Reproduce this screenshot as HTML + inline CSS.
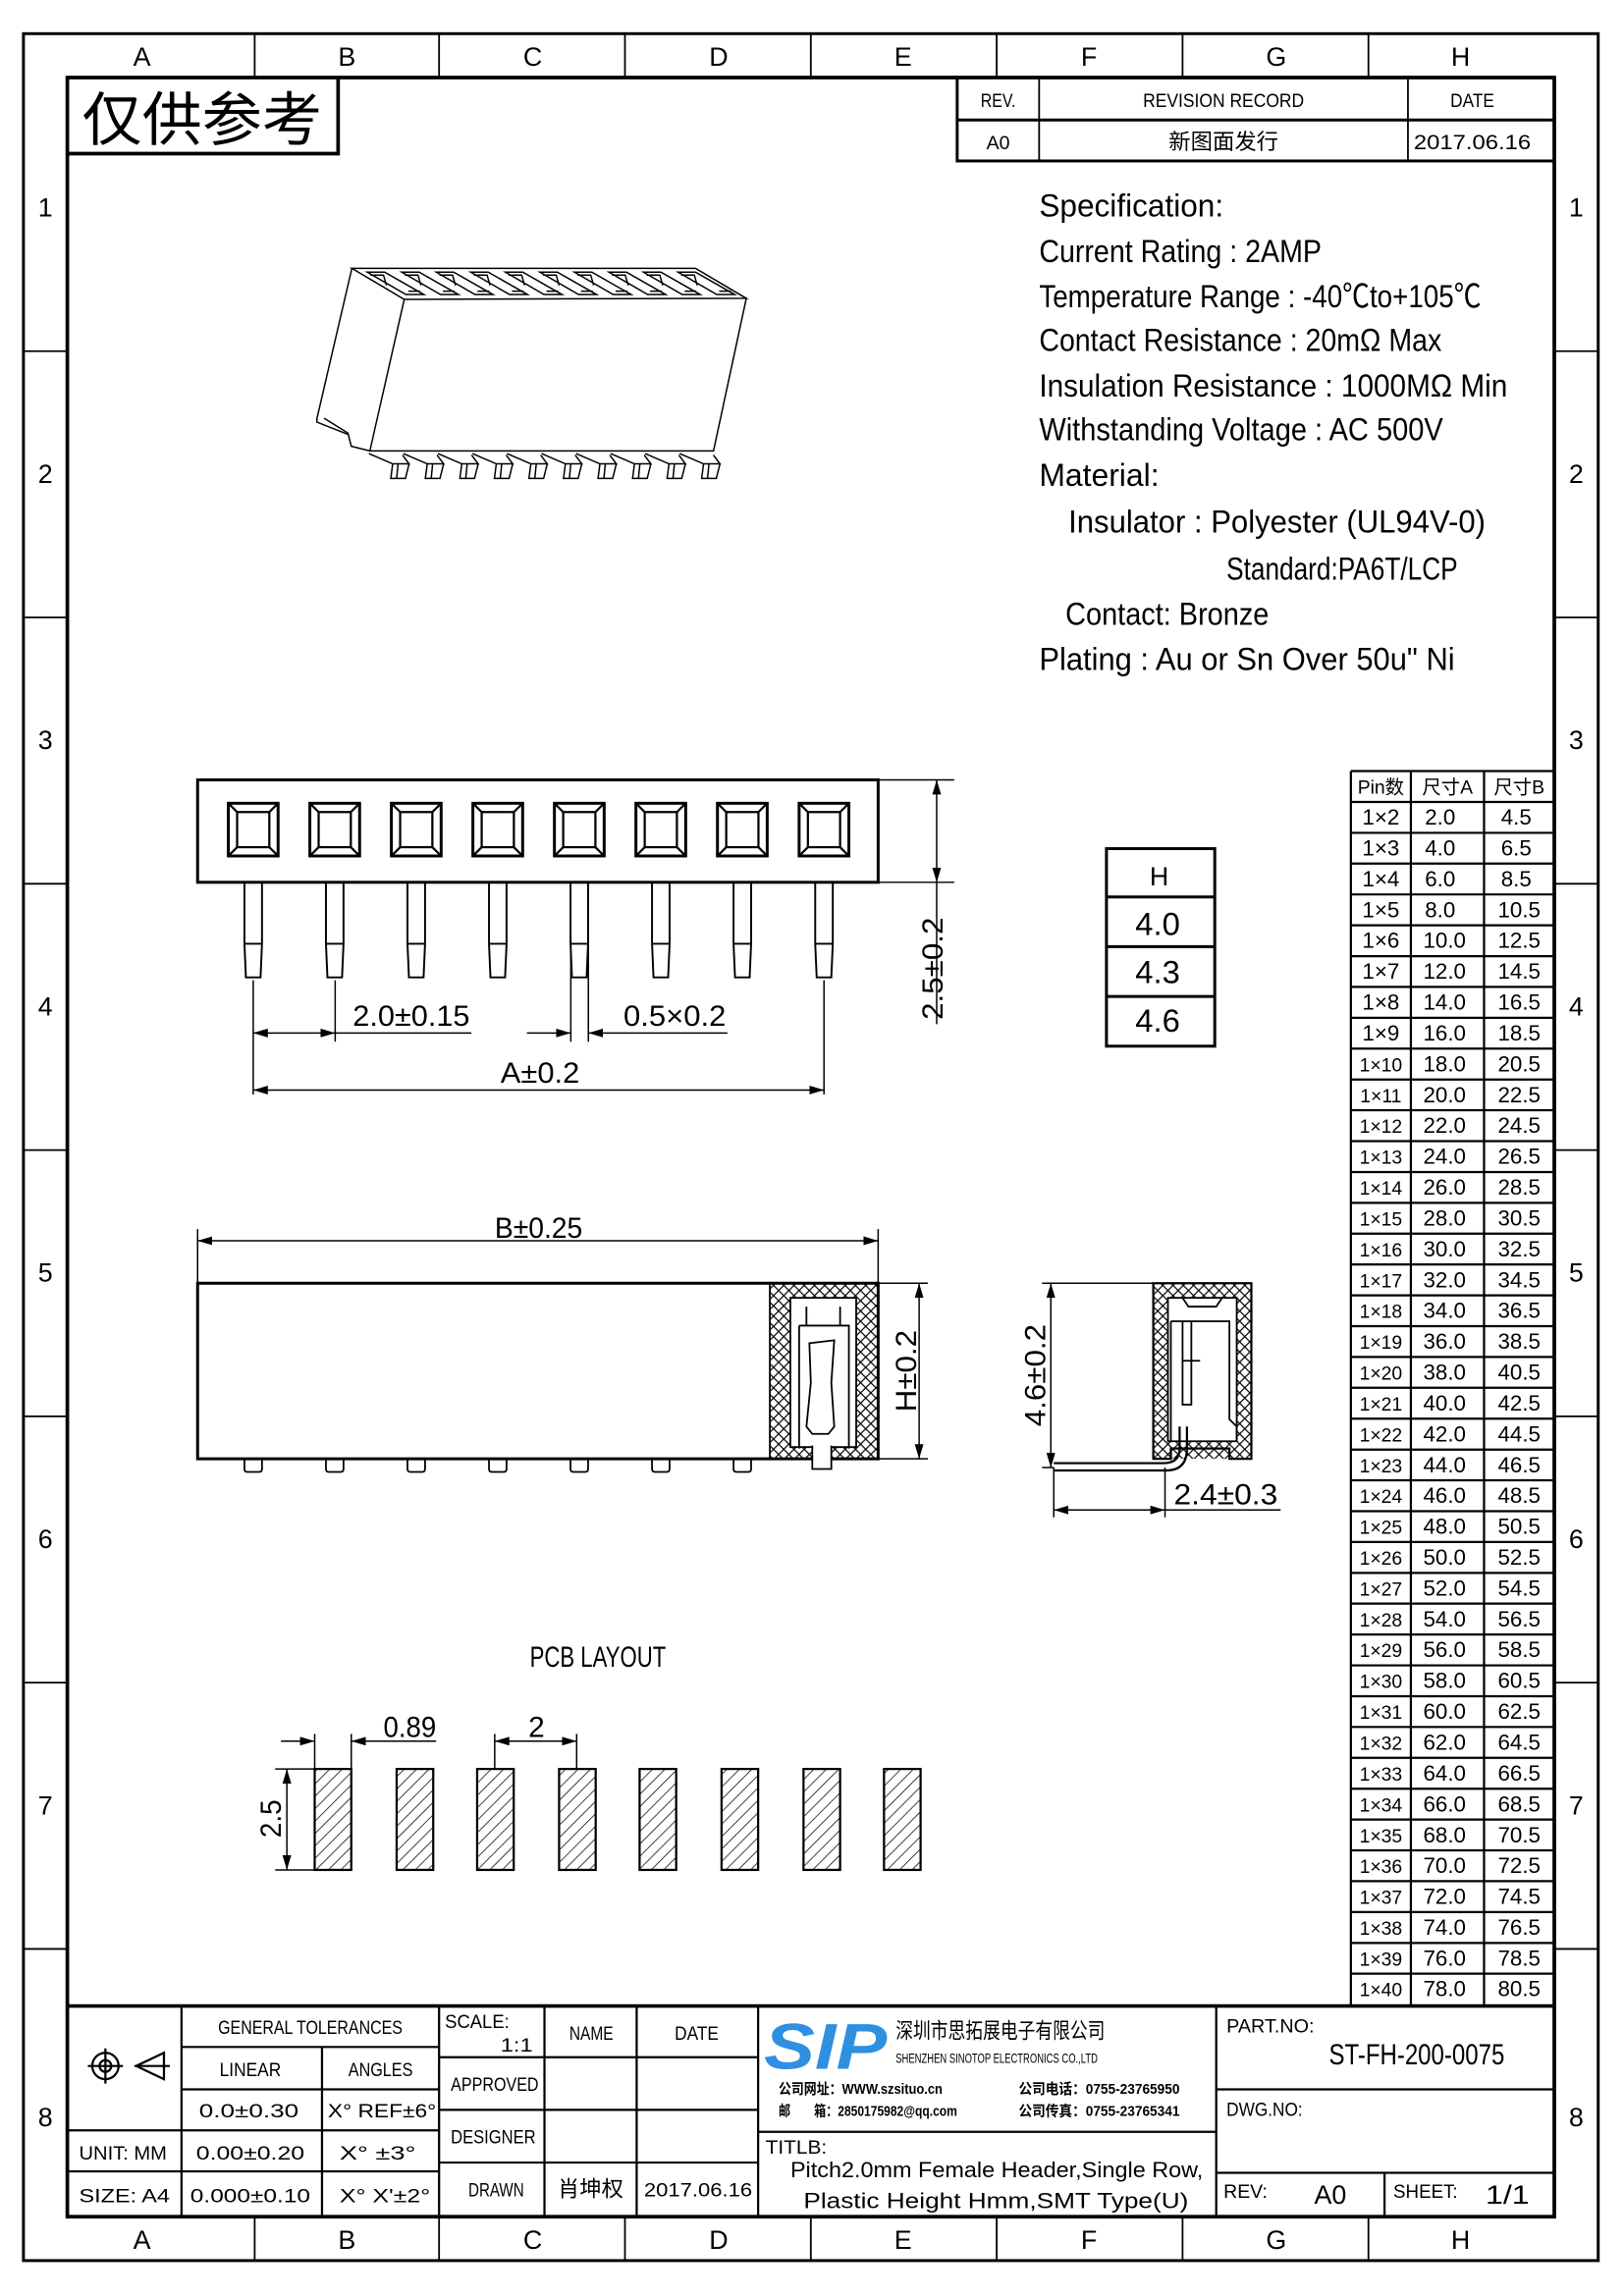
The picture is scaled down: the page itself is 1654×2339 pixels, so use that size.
<!DOCTYPE html>
<html><head><meta charset="utf-8"><style>
html,body{margin:0;padding:0;background:#fff}
svg{display:block}
text{font-family:"Liberation Sans","Noto Sans CJK SC",sans-serif;fill:#000}
</style></head><body>
<svg width="1654" height="2339" viewBox="0 0 1109.6 1569.2" xmlns="http://www.w3.org/2000/svg">
<defs>
<pattern id="xh" width="7" height="7" patternUnits="userSpaceOnUse"><path d="M0 0L7 7M7 0L0 7" stroke="#000" stroke-width="0.8"/></pattern>
<pattern id="dh" width="6" height="6" patternUnits="userSpaceOnUse" patternTransform="rotate(45)"><path d="M0 0V6" stroke="#000" stroke-width="1"/></pattern>
<marker id="ar" viewBox="0 0 10 6" refX="10" refY="3" markerWidth="10" markerHeight="6" orient="auto-start-reverse" markerUnits="userSpaceOnUse"><path d="M0 0L10 3L0 6z" fill="#000"/></marker>
</defs>
<g fill="none" stroke="#000">
<rect x="16" y="23" width="1076" height="1522" stroke-width="2"/>
<rect x="46" y="53" width="1016" height="1462" stroke-width="2.5"/>
<path d="M174 23V53M300 23V53M427 23V53M554 23V53M681 23V53M808 23V53M935 23V53M174 1515V1545M300 1515V1545M427 1515V1545M554 1515V1545M681 1515V1545M808 1515V1545M935 1515V1545" stroke-width="1.2"/>
<path d="M16 240H46M16 422H46M16 604H46M16 786H46M16 968H46M16 1150H46M16 1332H46M1062 240H1092M1062 422H1092M1062 604H1092M1062 786H1092M1062 968H1092M1062 1150H1092M1062 1332H1092" stroke-width="1.2"/>
<path d="M46 105H231V53" stroke-width="2.5"/>
<rect x="654" y="53" width="408" height="57" stroke-width="2"/>
<path d="M654 82H1062" stroke-width="2"/>
<path d="M710 53V110M962 53V110" stroke-width="1.2"/>
</g>
<g font-size="18" text-anchor="middle">
<text x="97" y="45">A</text><text x="237" y="45">B</text><text x="364" y="45">C</text><text x="491" y="45">D</text><text x="617" y="45">E</text><text x="744" y="45">F</text><text x="872" y="45">G</text><text x="998" y="45">H</text>
<text x="97" y="1537">A</text><text x="237" y="1537">B</text><text x="364" y="1537">C</text><text x="491" y="1537">D</text><text x="617" y="1537">E</text><text x="744" y="1537">F</text><text x="872" y="1537">G</text><text x="998" y="1537">H</text>
<text x="31" y="148">1</text><text x="31" y="330">2</text><text x="31" y="512">3</text><text x="31" y="694">4</text><text x="31" y="876">5</text><text x="31" y="1058">6</text><text x="31" y="1240">7</text><text x="31" y="1453">8</text>
<text x="1077" y="148">1</text><text x="1077" y="330">2</text><text x="1077" y="512">3</text><text x="1077" y="694">4</text><text x="1077" y="876">5</text><text x="1077" y="1058">6</text><text x="1077" y="1240">7</text><text x="1077" y="1453">8</text>
</g>
<text x="56" y="96" font-size="40" textLength="164" lengthAdjust="spacingAndGlyphs" font-family="Noto Sans CJK SC,sans-serif">仅供参考</text>
<g font-size="13" text-anchor="middle">
<text x="682" y="73" textLength="24" lengthAdjust="spacingAndGlyphs">REV.</text>
<text x="836" y="73" textLength="110" lengthAdjust="spacingAndGlyphs">REVISION RECORD</text>
<text x="1006" y="73" textLength="30" lengthAdjust="spacingAndGlyphs">DATE</text>
<text x="682" y="102" textLength="16" lengthAdjust="spacingAndGlyphs">A0</text>
<text x="836" y="102" font-size="15">新图面发行</text>
<text x="1006" y="102" font-size="14" textLength="80" lengthAdjust="spacingAndGlyphs">2017.06.16</text>
</g>
<g font-size="22">
<text x="710" y="148" textLength="126" lengthAdjust="spacingAndGlyphs">Specification:</text>
<text x="710" y="179" textLength="193" lengthAdjust="spacingAndGlyphs">Current Rating : 2AMP</text>
<text x="710" y="210" textLength="302" lengthAdjust="spacingAndGlyphs">Temperature Range : -40℃to+105℃</text>
<text x="710" y="240" textLength="275" lengthAdjust="spacingAndGlyphs">Contact Resistance : 20mΩ Max</text>
<text x="710" y="271" textLength="320" lengthAdjust="spacingAndGlyphs">Insulation Resistance : 1000MΩ Min</text>
<text x="710" y="301" textLength="276" lengthAdjust="spacingAndGlyphs">Withstanding Voltage : AC 500V</text>
<text x="710" y="332" textLength="82" lengthAdjust="spacingAndGlyphs">Material:</text>
<text x="730" y="364" textLength="285" lengthAdjust="spacingAndGlyphs">Insulator : Polyester (UL94V-0)</text>
<text x="838" y="396" textLength="158" lengthAdjust="spacingAndGlyphs">Standard:PA6T/LCP</text>
<text x="728" y="427" textLength="139" lengthAdjust="spacingAndGlyphs">Contact: Bronze</text>
<text x="710" y="458" textLength="284" lengthAdjust="spacingAndGlyphs">Plating : Au or Sn Over 50u" Ni</text>
</g>
<g fill="none" stroke="#000" stroke-width="1">
<path d="M240.4 183.4L475.2 183.4L509.9 203.9L276.2 204.6Z"/>
<path d="M276.2 204.6L252.7 308.2L487.5 308.2L509.9 203.9"/>
<path d="M240.4 183.4L216.5 286.2L216.5 288.5L238 297L240 305L252.7 308.2"/>
<path d="M221.4 285.8L238.2 296.3"/>
<g id="sl"><path d="M250.9 186L262.8 186L289.6 201.3L277.3 201.3Z"/><path d="M253 188L262 188L264 195M279 199L287 199"/></g>
<use href="#sl" x="23.6"/><use href="#sl" x="47.2"/><use href="#sl" x="70.8"/><use href="#sl" x="94.4"/><use href="#sl" x="118"/><use href="#sl" x="141.6"/><use href="#sl" x="165.2"/><use href="#sl" x="188.8"/><use href="#sl" x="212.4"/>
<g id="pn"><path d="M252 310L268.3 317L279.5 317L275 311M268.3 317L267 327L277 327L279.5 317M272 317L271 327"/></g>
<use href="#pn" x="23.6"/><use href="#pn" x="47.2"/><use href="#pn" x="70.8"/><use href="#pn" x="94.4"/><use href="#pn" x="118"/><use href="#pn" x="141.6"/><use href="#pn" x="165.2"/><use href="#pn" x="188.8"/><use href="#pn" x="212.4"/>
</g>
<g fill="none" stroke="#000">
<rect x="135" y="533" width="465" height="70" stroke-width="2"/>
<g id="sq" stroke-width="1.5"><rect x="156" y="549" width="34" height="36" stroke-width="2"/><rect x="162" y="555" width="22" height="24"/><path d="M156 549L162 555M190 549L184 555M156 585L162 579M190 585L184 579"/><path d="M167 603V645L168 668H178L179 645V603M167 645H179" stroke-width="1.3"/></g>
<use href="#sq" x="55.7"/><use href="#sq" x="111.4"/><use href="#sq" x="167.1"/><use href="#sq" x="222.8"/><use href="#sq" x="278.5"/><use href="#sq" x="334.2"/><use href="#sq" x="390"/>
<path d="M173 670V748M229 670V712M563 670V748M390 640V712M402 640V712M600 533H652M600 603H652M640 603V700" stroke-width="1"/>
<path d="M173 706H229" stroke-width="1" marker-start="url(#ar)" marker-end="url(#ar)"/>
<path d="M229 706H322" stroke-width="1"/>
<path d="M360 706H390" stroke-width="1" marker-end="url(#ar)"/>
<path d="M434 706H402" stroke-width="1" marker-end="url(#ar)"/>
<path d="M434 706H497" stroke-width="1"/>
<path d="M173 745H563" stroke-width="1" marker-start="url(#ar)" marker-end="url(#ar)"/>
<path d="M640 533V603" stroke-width="1" marker-start="url(#ar)" marker-end="url(#ar)"/>
</g>
<g font-size="20">
<text x="241" y="701" textLength="80" lengthAdjust="spacingAndGlyphs">2.0±0.15</text>
<text x="426" y="701" textLength="70" lengthAdjust="spacingAndGlyphs">0.5×0.2</text>
<text x="342" y="740" textLength="54" lengthAdjust="spacingAndGlyphs">A±0.2</text>
<text transform="translate(644 697) rotate(-90)" textLength="70" lengthAdjust="spacingAndGlyphs">2.5±0.2</text>
</g>
<g fill="none" stroke="#000" stroke-width="2"><rect x="756" y="580" width="74" height="135"/><path d="M756 613H830M756 647H830M756 681H830"/></g>
<g font-size="22" text-anchor="middle"><text x="792" y="605" font-size="18">H</text><text x="791" y="639">4.0</text><text x="791" y="672">4.3</text><text x="791" y="705">4.6</text></g>
<g fill="none" stroke="#000">
<rect x="526" y="877" width="74" height="120" fill="url(#xh)" stroke="none"/>
<path d="M135 877H600V997H135Z" stroke-width="2"/>
<path d="M526 877V997" stroke-width="1.2"/>
<path d="M540 887H585V989H540Z" fill="#fff" stroke-width="1.2"/>
<path d="M551 893V906M574 893V906M546 906H580V990M546 906V990" stroke-width="1.2"/>
<path d="M553 918L570 916L568 945L570 975L566 980L555 980L551 975L554 945Z" fill="#fff" stroke-width="1.2"/>
<path d="M555 988V1004H568V988" fill="#fff" stroke-width="1.2"/>
<g id="pd"><path d="M167 997V1004Q167 1006 169 1006H177Q179 1006 179 1004V997" stroke-width="1.2"/></g>
<use href="#pd" x="55.7"/><use href="#pd" x="111.4"/><use href="#pd" x="167.1"/><use href="#pd" x="222.8"/><use href="#pd" x="278.5"/><use href="#pd" x="334.2"/>
<path d="M135 840V877M600 840V877M600 877H634M600 997H634" stroke-width="1"/>
<path d="M135 848H600" stroke-width="1" marker-start="url(#ar)" marker-end="url(#ar)"/>
<path d="M628 877V997" stroke-width="1" marker-start="url(#ar)" marker-end="url(#ar)"/>
</g>
<g font-size="20">
<text x="338" y="846" textLength="60" lengthAdjust="spacingAndGlyphs">B±0.25</text>
<text transform="translate(626 965) rotate(-90)" textLength="56" lengthAdjust="spacingAndGlyphs">H±0.2</text>
</g>
<g fill="none" stroke="#000">
<rect x="788" y="877" width="67" height="120" fill="url(#xh)" stroke="none"/>
<path d="M788 877H855V997H840V990H800V997H788Z" stroke-width="1.5"/>
<path d="M798 887H845V985H798Z" fill="#fff" stroke-width="1.2"/>
<path d="M808 887L812 893H831L835 887M800 903V985M800 903H840V970L845 975V985" stroke-width="1.2"/>
<path d="M808 903V960H814V903M808 930H820" stroke-width="1.2"/>
<path d="M720 1000H795Q806 1000 806 990V975" stroke-width="1.5"/>
<path d="M720 1005H797Q811 1005 811 990V975" stroke-width="1.5"/>
<path d="M712 877H788M712 1003H720M720 1003V1037M796 1003V1037" stroke-width="1"/>
<path d="M718 877V1003" stroke-width="1" marker-start="url(#ar)" marker-end="url(#ar)"/>
<path d="M720 1032H796" stroke-width="1" marker-start="url(#ar)" marker-end="url(#ar)"/>
<path d="M796 1032H875" stroke-width="1"/>
</g>
<g font-size="20">
<text transform="translate(714 975) rotate(-90)" textLength="70" lengthAdjust="spacingAndGlyphs">4.6±0.2</text>
<text x="802" y="1028" textLength="71" lengthAdjust="spacingAndGlyphs">2.4±0.3</text>
<text x="362" y="1139" textLength="93" lengthAdjust="spacingAndGlyphs">PCB LAYOUT</text>
<text x="262" y="1187" textLength="36" lengthAdjust="spacingAndGlyphs">0.89</text>
<text x="361" y="1187">2</text>
<text transform="translate(192 1256) rotate(-90)" textLength="26" lengthAdjust="spacingAndGlyphs">2.5</text>
</g>
<g stroke="#000" fill="url(#dh)" stroke-width="1.5">
<rect x="215" y="1209" width="25" height="69"/><rect x="271" y="1209" width="25" height="69"/><rect x="326" y="1209" width="25" height="69"/><rect x="382" y="1209" width="25" height="69"/><rect x="437" y="1209" width="25" height="69"/><rect x="493" y="1209" width="25" height="69"/><rect x="549" y="1209" width="25" height="69"/><rect x="604" y="1209" width="25" height="69"/>
</g>
<g fill="none" stroke="#000" stroke-width="1">
<path d="M215 1185V1209M240 1185V1209M338 1185V1209M394 1185V1209M188 1209H215M188 1278H215"/>
<path d="M192 1190H215" marker-end="url(#ar)"/><path d="M298 1190H240" marker-end="url(#ar)"/>
<path d="M338 1190H394" marker-start="url(#ar)" marker-end="url(#ar)"/>
<path d="M196 1209V1278" marker-start="url(#ar)" marker-end="url(#ar)"/>
</g>
<g fill="none" stroke="#000">
<path d="M923 527H1062M923 527V1370M964 527V1370M1014 527V1370" stroke-width="1.5"/>
<path d="M923 548.1H1062M923 569.2H1062M923 590.2H1062M923 611.3H1062M923 632.4H1062M923 653.5H1062M923 674.5H1062M923 695.6H1062M923 716.7H1062M923 737.8H1062M923 758.8H1062M923 779.9H1062M923 801H1062M923 822.1H1062M923 843.1H1062M923 864.2H1062M923 885.3H1062M923 906.4H1062M923 927.4H1062M923 948.5H1062M923 969.6H1062M923 990.7H1062M923 1011.7H1062M923 1032.8H1062M923 1053.9H1062M923 1075H1062M923 1096H1062M923 1117.1H1062M923 1138.2H1062M923 1159.3H1062M923 1180.3H1062M923 1201.4H1062M923 1222.5H1062M923 1243.6H1062M923 1264.6H1062M923 1285.7H1062M923 1306.8H1062M923 1327.9H1062M923 1348.9H1062" stroke-width="1.5"/>
</g>
<g font-size="15" text-anchor="middle">
<text x="943.5" y="542.5" font-size="13">Pin数</text><text x="989" y="542.5" font-size="13">尺寸A</text><text x="1038" y="542.5" font-size="13">尺寸B</text>
<text x="943.5" y="563.6">1×2</text><text x="984" y="563.6">2.0</text><text x="1036" y="563.6">4.5</text>
<text x="943.5" y="584.6">1×3</text><text x="984" y="584.6">4.0</text><text x="1036" y="584.6">6.5</text>
<text x="943.5" y="605.7">1×4</text><text x="984" y="605.7">6.0</text><text x="1036" y="605.7">8.5</text>
<text x="943.5" y="626.8">1×5</text><text x="984" y="626.8">8.0</text><text x="1038" y="626.8">10.5</text>
<text x="943.5" y="647.9">1×6</text><text x="987" y="647.9">10.0</text><text x="1038" y="647.9">12.5</text>
<text x="943.5" y="668.9">1×7</text><text x="987" y="668.9">12.0</text><text x="1038" y="668.9">14.5</text>
<text x="943.5" y="690">1×8</text><text x="987" y="690">14.0</text><text x="1038" y="690">16.5</text>
<text x="943.5" y="711.1">1×9</text><text x="987" y="711.1">16.0</text><text x="1038" y="711.1">18.5</text>
<text x="943.5" y="732.2" font-size="13">1×10</text><text x="987" y="732.2">18.0</text><text x="1038" y="732.2">20.5</text>
<text x="943.5" y="753.3" font-size="13">1×11</text><text x="987" y="753.3">20.0</text><text x="1038" y="753.3">22.5</text>
<text x="943.5" y="774.3" font-size="13">1×12</text><text x="987" y="774.3">22.0</text><text x="1038" y="774.3">24.5</text>
<text x="943.5" y="795.4" font-size="13">1×13</text><text x="987" y="795.4">24.0</text><text x="1038" y="795.4">26.5</text>
<text x="943.5" y="816.5" font-size="13">1×14</text><text x="987" y="816.5">26.0</text><text x="1038" y="816.5">28.5</text>
<text x="943.5" y="837.6" font-size="13">1×15</text><text x="987" y="837.6">28.0</text><text x="1038" y="837.6">30.5</text>
<text x="943.5" y="858.6" font-size="13">1×16</text><text x="987" y="858.6">30.0</text><text x="1038" y="858.6">32.5</text>
<text x="943.5" y="879.7" font-size="13">1×17</text><text x="987" y="879.7">32.0</text><text x="1038" y="879.7">34.5</text>
<text x="943.5" y="900.8" font-size="13">1×18</text><text x="987" y="900.8">34.0</text><text x="1038" y="900.8">36.5</text>
<text x="943.5" y="921.9" font-size="13">1×19</text><text x="987" y="921.9">36.0</text><text x="1038" y="921.9">38.5</text>
<text x="943.5" y="942.9" font-size="13">1×20</text><text x="987" y="942.9">38.0</text><text x="1038" y="942.9">40.5</text>
<text x="943.5" y="964" font-size="13">1×21</text><text x="987" y="964">40.0</text><text x="1038" y="964">42.5</text>
<text x="943.5" y="985.1" font-size="13">1×22</text><text x="987" y="985.1">42.0</text><text x="1038" y="985.1">44.5</text>
<text x="943.5" y="1006.2" font-size="13">1×23</text><text x="987" y="1006.2">44.0</text><text x="1038" y="1006.2">46.5</text>
<text x="943.5" y="1027.2" font-size="13">1×24</text><text x="987" y="1027.2">46.0</text><text x="1038" y="1027.2">48.5</text>
<text x="943.5" y="1048.3" font-size="13">1×25</text><text x="987" y="1048.3">48.0</text><text x="1038" y="1048.3">50.5</text>
<text x="943.5" y="1069.4" font-size="13">1×26</text><text x="987" y="1069.4">50.0</text><text x="1038" y="1069.4">52.5</text>
<text x="943.5" y="1090.5" font-size="13">1×27</text><text x="987" y="1090.5">52.0</text><text x="1038" y="1090.5">54.5</text>
<text x="943.5" y="1111.5" font-size="13">1×28</text><text x="987" y="1111.5">54.0</text><text x="1038" y="1111.5">56.5</text>
<text x="943.5" y="1132.6" font-size="13">1×29</text><text x="987" y="1132.6">56.0</text><text x="1038" y="1132.6">58.5</text>
<text x="943.5" y="1153.7" font-size="13">1×30</text><text x="987" y="1153.7">58.0</text><text x="1038" y="1153.7">60.5</text>
<text x="943.5" y="1174.8" font-size="13">1×31</text><text x="987" y="1174.8">60.0</text><text x="1038" y="1174.8">62.5</text>
<text x="943.5" y="1195.8" font-size="13">1×32</text><text x="987" y="1195.8">62.0</text><text x="1038" y="1195.8">64.5</text>
<text x="943.5" y="1216.9" font-size="13">1×33</text><text x="987" y="1216.9">64.0</text><text x="1038" y="1216.9">66.5</text>
<text x="943.5" y="1238" font-size="13">1×34</text><text x="987" y="1238">66.0</text><text x="1038" y="1238">68.5</text>
<text x="943.5" y="1259.1" font-size="13">1×35</text><text x="987" y="1259.1">68.0</text><text x="1038" y="1259.1">70.5</text>
<text x="943.5" y="1280.1" font-size="13">1×36</text><text x="987" y="1280.1">70.0</text><text x="1038" y="1280.1">72.5</text>
<text x="943.5" y="1301.2" font-size="13">1×37</text><text x="987" y="1301.2">72.0</text><text x="1038" y="1301.2">74.5</text>
<text x="943.5" y="1322.3" font-size="13">1×38</text><text x="987" y="1322.3">74.0</text><text x="1038" y="1322.3">76.5</text>
<text x="943.5" y="1343.4" font-size="13">1×39</text><text x="987" y="1343.4">76.0</text><text x="1038" y="1343.4">78.5</text>
<text x="943.5" y="1364.4" font-size="13">1×40</text><text x="987" y="1364.4">78.0</text><text x="1038" y="1364.4">80.5</text>
</g>
<g fill="none" stroke="#000">
<path d="M46 1371H1062" stroke-width="2.5"/>
<path d="M124 1371V1515M300 1371V1515M220 1399V1515M372 1371V1515M435 1371V1515M518 1371V1515M831 1371V1515M946 1485V1515" stroke-width="1.5"/>
<path d="M124 1399H300M124 1428H300M46 1456H300M46 1484H300M300 1406H518M300 1442H518M300 1478H518M518 1457H831M831 1428H1062M831 1485H1062" stroke-width="1.5"/>
<circle cx="72" cy="1412" r="9" stroke-width="1.5"/><circle cx="72" cy="1412" r="4" stroke-width="1.5"/>
<path d="M60 1412H84M72 1400V1424M92 1412H116M93 1412L112 1403V1421Z" stroke-width="1.5"/>
</g>
<g font-size="13">
<text x="149" y="1390" textLength="126" lengthAdjust="spacingAndGlyphs">GENERAL TOLERANCES</text>
<text x="150" y="1419" textLength="42" lengthAdjust="spacingAndGlyphs">LINEAR</text>
<text x="238" y="1419" textLength="44" lengthAdjust="spacingAndGlyphs">ANGLES</text>
<text x="136" y="1447" textLength="68" lengthAdjust="spacingAndGlyphs">0.0±0.30</text>
<text x="224" y="1447" textLength="74" lengthAdjust="spacingAndGlyphs">X° REF±6°</text>
<text x="54" y="1476" textLength="60" lengthAdjust="spacingAndGlyphs">UNIT: MM</text>
<text x="134" y="1476" textLength="74" lengthAdjust="spacingAndGlyphs">0.00±0.20</text>
<text x="232" y="1476" textLength="52" lengthAdjust="spacingAndGlyphs">X° ±3°</text>
<text x="54" y="1505" textLength="62" lengthAdjust="spacingAndGlyphs">SIZE: A4</text>
<text x="130" y="1505" textLength="82" lengthAdjust="spacingAndGlyphs">0.000±0.10</text>
<text x="232" y="1505" textLength="62" lengthAdjust="spacingAndGlyphs">X° X'±2°</text>
<text x="304" y="1386" textLength="44" lengthAdjust="spacingAndGlyphs">SCALE:</text>
<text x="342" y="1402" textLength="22" lengthAdjust="spacingAndGlyphs">1:1</text>
<text x="389" y="1394" textLength="30" lengthAdjust="spacingAndGlyphs">NAME</text>
<text x="461" y="1394" textLength="30" lengthAdjust="spacingAndGlyphs">DATE</text>
<text x="308" y="1429" textLength="60" lengthAdjust="spacingAndGlyphs">APPROVED</text>
<text x="308" y="1465" textLength="58" lengthAdjust="spacingAndGlyphs">DESIGNER</text>
<text x="320" y="1501" textLength="38" lengthAdjust="spacingAndGlyphs">DRAWN</text>
<text x="381" y="1501" font-size="15">肖坤权</text>
<text x="440" y="1501" textLength="74" lengthAdjust="spacingAndGlyphs">2017.06.16</text>
<text x="523" y="1472" textLength="42" lengthAdjust="spacingAndGlyphs">TITLB:</text>
<text x="540" y="1488" font-size="15" font-family="Liberation Mono,monospace" textLength="282" lengthAdjust="spacingAndGlyphs">Pitch2.0mm Female Header,Single Row,</text>
<text x="549" y="1509" font-size="15" font-family="Liberation Mono,monospace" textLength="263" lengthAdjust="spacingAndGlyphs">Plastic Height Hmm,SMT Type(U)</text>
<text x="838" y="1389" textLength="60" lengthAdjust="spacingAndGlyphs">PART.NO:</text>
<text x="908" y="1411" font-size="20" textLength="120" lengthAdjust="spacingAndGlyphs">ST-FH-200-0075</text>
<text x="838" y="1446" textLength="52" lengthAdjust="spacingAndGlyphs">DWG.NO:</text>
<text x="836" y="1502" textLength="30" lengthAdjust="spacingAndGlyphs">REV:</text>
<text x="898" y="1506" font-size="18" textLength="22" lengthAdjust="spacingAndGlyphs">A0</text>
<text x="952" y="1502" textLength="44" lengthAdjust="spacingAndGlyphs">SHEET:</text>
<text x="1015" y="1506" font-size="18" textLength="30" lengthAdjust="spacingAndGlyphs">1/1</text>
</g>
<text x="522" y="1414" font-size="44" font-style="italic" font-weight="bold" style="fill:#2f8fe0" textLength="84" lengthAdjust="spacingAndGlyphs">SIP</text>
<text x="612" y="1393" font-size="15" textLength="143" lengthAdjust="spacingAndGlyphs">深圳市思拓展电子有限公司</text>
<text x="612" y="1410" font-size="9" textLength="138" lengthAdjust="spacingAndGlyphs">SHENZHEN SINOTOP ELECTRONICS CO.,LTD</text>
<g font-size="10" font-weight="bold">
<text x="532" y="1431" textLength="112" lengthAdjust="spacingAndGlyphs">公司网址：WWW.szsituo.cn</text>
<text x="696" y="1431" textLength="110" lengthAdjust="spacingAndGlyphs">公司电话：0755-23765950</text>
<text x="532" y="1446" textLength="122" lengthAdjust="spacingAndGlyphs">邮　　箱：2850175982@qq.com</text>
<text x="696" y="1446" textLength="110" lengthAdjust="spacingAndGlyphs">公司传真：0755-23765341</text>
</g>
</svg>
</body></html>
